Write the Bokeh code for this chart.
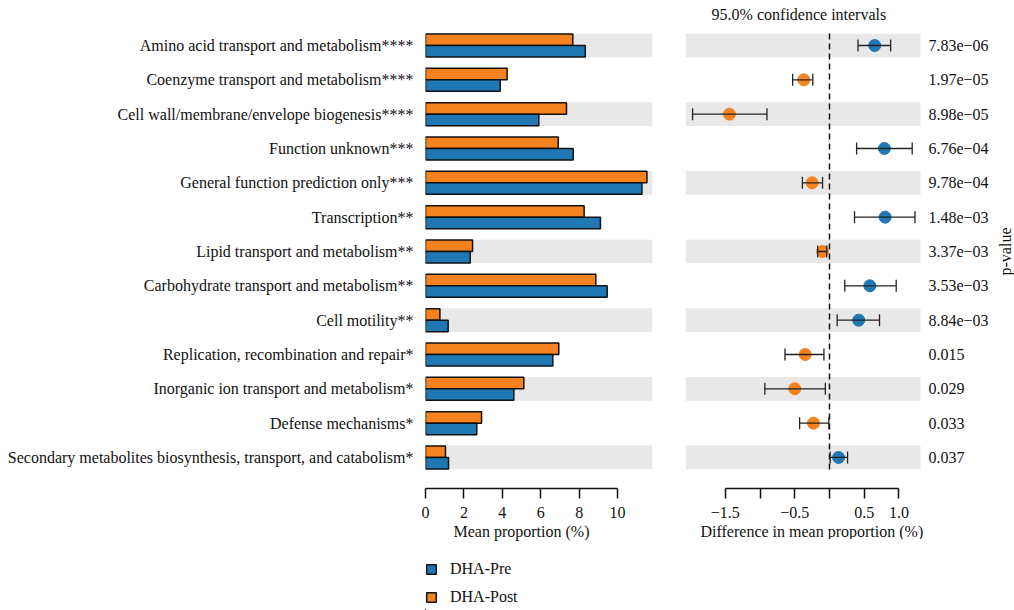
from bokeh.plotting import figure
from bokeh.layouts import row, column
from bokeh.models import (ColumnDataSource, Range1d, FixedTicker, Legend, LegendItem,
                          Whisker, TeeHead, Title)
from bokeh.core.properties import value
from bokeh.embed import file_html
from bokeh.resources import INLINE

# ---- data -----------------------------------------------------------------
categories = [
    "Amino acid transport and metabolism****",
    "Coenzyme transport and metabolism****",
    "Cell wall/membrane/envelope biogenesis****",
    "Function unknown***",
    "General function prediction only***",
    "Transcription**",
    "Lipid transport and metabolism**",
    "Carbohydrate transport and metabolism**",
    "Cell motility**",
    "Replication, recombination and repair*",
    "Inorganic ion transport and metabolism*",
    "Defense mechanisms*",
    "Secondary metabolites biosynthesis, transport, and catabolism*",
]
dha_pre = [8.32, 3.89, 5.90, 7.69, 11.27, 9.11, 2.33, 9.46, 1.18, 6.63, 4.60, 2.67, 1.20]
dha_post = [7.67, 4.25, 7.34, 6.91, 11.53, 8.26, 2.45, 8.87, 0.75, 6.94, 5.12, 2.92, 1.04]
diff = [0.65, -0.37, -1.44, 0.79, -0.25, 0.80, -0.10, 0.58, 0.42, -0.35, -0.50, -0.23, 0.13]
ci_low = [0.41, -0.53, -1.97, 0.39, -0.39, 0.36, -0.17, 0.22, 0.11, -0.64, -0.93, -0.43, 0.01]
ci_high = [0.88, -0.24, -0.90, 1.19, -0.10, 1.23, -0.04, 0.96, 0.72, -0.08, -0.06, -0.01, 0.26]
p_values = ["7.83e\u221206", "1.97e\u221205", "8.98e\u221205", "6.76e\u221204", "9.78e\u221204",
            "1.48e\u221203", "3.37e\u221203", "3.53e\u221203", "8.84e\u221203",
            "0.015", "0.029", "0.033", "0.037"]
mean_ticks = [0, 2, 4, 6, 8, 10]
diff_ticks = [-1.5, -1.0, -0.5, 0.0, 0.5, 1.0]
diff_tick_labels = ["\u22121.5", "", "\u22120.5", "", "0.5", "1.0"]
group_names = ["DHA-Pre", "DHA-Post"]

# ---- styling --------------------------------------------------------------
BLUE = "#1f77b4"
ORANGE = "#f5821f"
BAND = "#e8e8e8"
INK = "#111111"
FONT = "Liberation Serif"
FS = "16px"

n = len(categories)
rows = list(range(n))
band_rows = rows[::2]

y_range = Range1d(start=12.904, end=-1.311)

src = ColumnDataSource(dict(
    y=rows,
    y_post=[r - 0.1675 for r in rows],
    y_pre=[r + 0.1675 for r in rows],
    pre=dha_pre,
    post=dha_post,
    diff=diff,
    lo=ci_low,
    hi=ci_high,
    p=p_values,
    color=[BLUE if d > 0 else ORANGE for d in diff],
))


def style_xaxis(fig, label, ticks, bounds, label_offset):
    ax = fig.xaxis[0]
    ax.major_label_text_font = FONT
    ax.major_label_text_font_size = FS
    ax.major_label_text_color = INK
    ax.major_label_standoff = 8
    ax.ticker = FixedTicker(ticks=ticks)
    ax.bounds = bounds
    ax.major_tick_in = 0
    ax.major_tick_out = 10
    ax.minor_tick_line_color = None
    ax.axis_line_width = 1.5
    ax.major_tick_line_width = 1.5
    ax.axis_line_color = INK
    ax.major_tick_line_color = INK
    # axis caption, centred under the bounded axis rather than the whole frame
    fig.add_layout(Title(text=label, align="left", offset=label_offset, standoff=0,
                         text_font=FONT, text_font_size=FS, text_font_style="normal",
                         text_color=INK), "below")


# ---- left panel: mean proportions ----------------------------------------
left = figure(frame_width=227, frame_height=488, x_range=Range1d(0, 11.82), y_range=y_range,
              output_backend="svg", toolbar_location=None,
              min_border_left=425, min_border_right=33, min_border_top=0, min_border_bottom=70)
left.grid.visible = False
left.outline_line_color = None

left.hbar(y=band_rows, left=0, right=11.82, height=0.69, fill_color=BAND, line_color=None)
left.hbar(y="y_post", left=0, right="post", height=0.335, source=src,
          fill_color=ORANGE, line_color=INK, line_width=1.5)
left.hbar(y="y_pre", left=0, right="pre", height=0.335, source=src,
          fill_color=BLUE, line_color=INK, line_width=1.5)

yax = left.yaxis[0]
yax.ticker = FixedTicker(ticks=rows)
yax.major_label_overrides = {i: c for i, c in enumerate(categories)}
yax.major_label_text_font = FONT
yax.major_label_text_font_size = FS
yax.major_label_text_color = INK
yax.axis_line_color = None
yax.major_tick_line_color = None
yax.minor_tick_line_color = None
yax.major_tick_out = 0
yax.major_label_standoff = 12

style_xaxis(left, "Mean proportion (%)", mean_ticks, (0, 10), 28)

# ---- legend strip under the left panel (its frame lines up with the bars) --
# zero-size swatch carriers, kept far outside the strip's view
leg_fig = figure(width=685, height=52, x_range=Range1d(1000, 1001), y_range=Range1d(1000, 1001),
                 output_backend="svg", toolbar_location=None,
                 x_axis_location=None, y_axis_location=None,
                 min_border_left=0, min_border_right=0, min_border_top=0, min_border_bottom=0)
leg_fig.grid.visible = False
leg_fig.outline_line_color = None
sw_pre = leg_fig.hbar(y="y_pre", left="pre", right="pre", height=0, source=src,
                      fill_color=BLUE, line_color=INK, line_width=1.5)
sw_post = leg_fig.hbar(y="y_post", left="post", right="post", height=0, source=src,
                       fill_color=ORANGE, line_color=INK, line_width=1.5)
legend = Legend(items=[LegendItem(label=group_names[0], renderers=[sw_pre]),
                       LegendItem(label=group_names[1], renderers=[sw_post])],
                location=(0, 4), orientation="vertical",
                label_text_font=FONT, label_text_font_size=FS, label_text_color=INK,
                glyph_width=12, glyph_height=12, label_height=16, label_standoff=13,
                spacing=10, margin=0, padding=0, border_line_color=None,
                background_fill_alpha=0)
leg_fig.add_layout(legend)

# ---- right panel: differences with confidence intervals ------------------
right = figure(frame_width=329, frame_height=488, x_range=Range1d(-2.072, 2.662), y_range=y_range,
               output_backend="svg", toolbar_location=None, y_axis_location=None,
               min_border_left=0, min_border_right=0, min_border_top=0, min_border_bottom=0)
right.grid.visible = False
right.outline_line_color = None

right.hbar(y=band_rows, left=-2.072, right=1.309, height=0.69, fill_color=BAND, line_color=None)
right.segment(x0=[0], y0=[-0.35], x1=[0], y1=[12.35], line_color=INK,
              line_width=1.5, line_dash="6 4")
whisk = Whisker(source=src, base="y", lower="lo", upper="hi", dimension="width",
                line_color="#222222", line_width=1.3, level="overlay",
                upper_head=TeeHead(size=12, line_color="#222222", line_width=1.3),
                lower_head=TeeHead(size=12, line_color="#222222", line_width=1.3))
right.add_layout(whisk)
dots = right.scatter(x="diff", y="y", source=src, size=12, fill_color="color", line_color="color")
dots.level = "overlay"

right.text(x=1.424, y="y", text="p", source=src, text_font=value(FONT), text_font_size=FS,
           text_color=INK, text_baseline="middle", text_align="left")
right.text(x=[-0.44], y=[-0.9], text=["95.0% confidence intervals"], text_font=value(FONT),
           text_font_size=FS, text_color=INK, text_baseline="middle", text_align="center")
right.text(x=[2.53], y=[6], text=["p-value"], angle=1.5708, text_font=value(FONT),
           text_font_size=FS, text_color=INK, text_baseline="middle", text_align="center")

style_xaxis(right, "Difference in mean proportion (%)", diff_ticks, (-1.5, 1.0), 15)
right.xaxis[0].major_label_overrides = {t: s for t, s in zip(diff_ticks, diff_tick_labels)}

layout = row(column(left, leg_fig, spacing=0), right, spacing=0)
open("out.html", "w").write(file_html(layout, INLINE))
